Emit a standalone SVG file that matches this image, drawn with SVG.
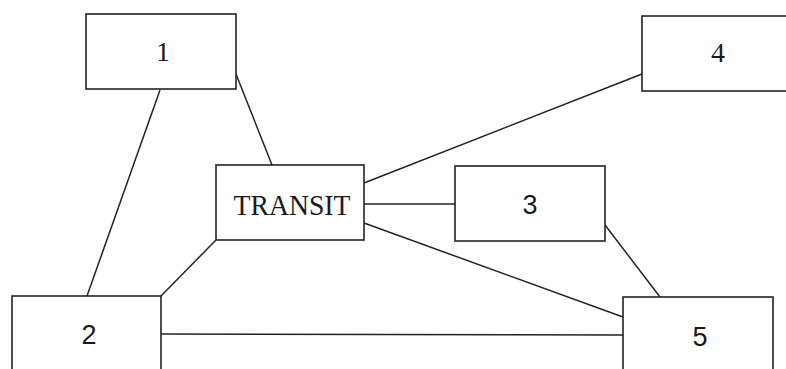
<svg xmlns="http://www.w3.org/2000/svg" width="786" height="369" viewBox="0 0 786 369">
  <style>
    .box { fill: #ffffff; stroke: #222222; stroke-width: 1.6; }
    .link { stroke: #222222; stroke-width: 1.5; fill: none; }
    .serif { font-family: "Liberation Serif", "DejaVu Serif", serif; fill: #1a1a1a; text-anchor: middle; }
    .sans { font-family: "Liberation Sans", "DejaVu Sans", sans-serif; fill: #1a1a1a; text-anchor: middle; }
  </style>
  <rect width="786" height="369" fill="#ffffff"/>

  <g id="connectors">
    <line class="link" x1="160" y1="90" x2="87" y2="296"/>
    <line class="link" x1="236" y1="74" x2="272" y2="165"/>
    <line class="link" x1="642" y1="74" x2="364" y2="183"/>
    <line class="link" x1="364" y1="204" x2="455" y2="204"/>
    <line class="link" x1="605" y1="225" x2="660" y2="297"/>
    <line class="link" x1="364" y1="223" x2="623" y2="317"/>
    <line class="link" x1="161" y1="296" x2="216" y2="240"/>
    <line class="link" x1="161" y1="334" x2="623" y2="335"/>
  </g>

  <g id="node-1">
    <rect class="box" x="86" y="14" width="150" height="75"/>
    <text class="serif" x="163" y="61" font-size="28">1</text>
  </g>

  <g id="node-4">
    <rect class="box" x="642" y="16" width="150" height="75"/>
    <text class="serif" x="718" y="62" font-size="28">4</text>
  </g>

  <g id="node-transit">
    <rect class="box" x="216" y="165" width="148" height="75"/>
    <text class="serif" x="292" y="215" font-size="29" textLength="117" lengthAdjust="spacingAndGlyphs">TRANSIT</text>
  </g>

  <g id="node-3">
    <rect class="box" x="455" y="166" width="150" height="75"/>
    <text class="sans" x="530" y="214" font-size="27">3</text>
  </g>

  <g id="node-2">
    <rect class="box" x="12" y="296" width="149" height="80"/>
    <text class="sans" x="89" y="344" font-size="27">2</text>
  </g>

  <g id="node-5">
    <rect class="box" x="623" y="297" width="150" height="80"/>
    <text class="sans" x="700" y="346" font-size="27">5</text>
  </g>
</svg>
